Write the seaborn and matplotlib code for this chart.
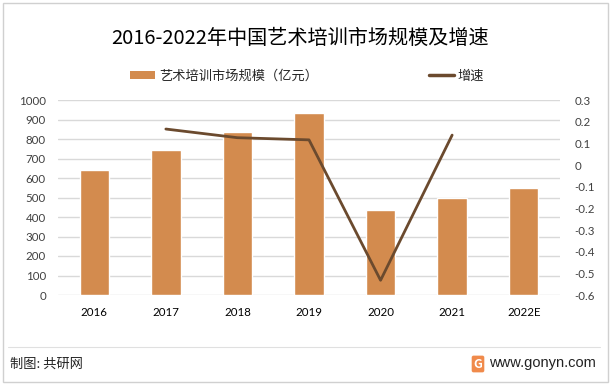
import numpy as np
import pandas as pd
import seaborn as sns
import matplotlib.pyplot as plt
from matplotlib.patches import Rectangle
from matplotlib.lines import Line2D

# values
years = ["2016", "2017", "2018", "2019", "2020", "2021", "2022E"]
market_size = [640, 745, 838, 935, 437, 498, 550]          # 亿元
growth = [np.nan, 0.166, 0.126, 0.116, -0.532, 0.138, np.nan]

bar_label = "艺术培训市场规模（亿元）"
line_label = "增速"
title = "2016-2022年中国艺术培训市场规模及增速"

bar_color = "#D38B4E"
line_color = "#6B4A2E"
grid_color = "#D9D9D9"
tick_color = "#404040"

sns.set_theme(style="white")
plt.rcParams["font.family"] = ["Noto Sans CJK SC", "DejaVu Sans"]

df = pd.DataFrame({"year": years, "size": market_size, "growth": growth})

fig = plt.figure(figsize=(6.12, 3.85), dpi=100)
ax = fig.add_axes([58.5 / 612, 90 / 385, 501 / 612, 195 / 385])

sns.barplot(data=df, x="year", y="size", order=years, color=bar_color,
            width=0.41, saturation=1, ax=ax, zorder=2)
ax.set_ylim(0, 1000)
ax.set_yticks(np.arange(0, 1001, 100))
ax.set_xlim(-0.5, len(years) - 0.5)
ax.yaxis.grid(True, color=grid_color, linewidth=1)
ax.set_axisbelow(True)
ax.set_xlabel("")
ax.set_ylabel("")
for s in ax.spines.values():
    s.set_visible(False)
ax.tick_params(axis="y", length=0, pad=9, labelsize=8.3, labelcolor=tick_color)
ax.tick_params(axis="x", length=0, pad=9, labelsize=8.3, labelcolor="#000000")
for lab in ax.get_xticklabels() + ax.get_yticklabels():
    lab.set_fontfamily(["Lato", "DejaVu Sans"])

ax2 = ax.twinx()
sns.lineplot(x=df.index, y=df["growth"], color=line_color, linewidth=2.0,
             ax=ax2, zorder=3)
ax2.set_ylim(-0.6, 0.3)
ax2.set_yticks(np.round(np.arange(-0.6, 0.31, 0.1), 1))
ax2.set_yticklabels([("0" if abs(v) < 1e-9 else f"{v:.1f}")
                     for v in np.arange(-0.6, 0.31, 0.1)])
ax2.set_ylabel("")
ax2.set_xlim(-0.5, len(years) - 0.5)
for s in ax2.spines.values():
    s.set_visible(False)
ax2.tick_params(axis="y", length=0, pad=11, labelsize=8.3, labelcolor=tick_color)
for lab in ax2.get_yticklabels():
    lab.set_fontfamily(["Lato", "DejaVu Sans"])

# title
fig.text(300 / 612, 1 - 38 / 385, title, ha="center", va="center",
         fontsize=14.5, color="#000000")

# legend
handles = [Rectangle((0, 0), 1, 1, facecolor=bar_color, edgecolor="none"),
           Line2D([0], [0], color=line_color, linewidth=2.5)]
fig.legend(handles, [bar_label, line_label], ncol=2, frameon=False,
           loc="center left", bbox_to_anchor=(118 / 612, 1 - 76 / 385),
           fontsize=9.5, handlelength=1.9, handleheight=0.6,
           handletextpad=0.3, columnspacing=8.4)

# footer
fig.add_artist(Line2D([8 / 612, 600 / 612], [1 - 347 / 385, 1 - 347 / 385],
                      color="#E0E0E0", linewidth=0.8))
fig.text(10 / 612, 1 - 364 / 385, "制图: 共研网", ha="left", va="center",
         fontsize=9.5, color="#222222")
fig.text(596 / 612, 1 - 363 / 385, "www.gonyn.com", ha="right", va="center",
         fontsize=10.5, color="#222222", fontfamily=["Liberation Sans", "DejaVu Sans"])
fig.text(478 / 612, 1 - 364 / 385, "G", ha="center", va="center",
         fontsize=9, fontweight="bold", color="white",
         bbox=dict(boxstyle="round,pad=0.15", facecolor="#F08A4B", edgecolor="none"))

# outer border
fig.add_artist(Rectangle((3 / 612, 3 / 385), 605 / 612, 379 / 385,
                         transform=fig.transFigure, fill=False,
                         edgecolor="#D0D0D0", linewidth=1))

fig.savefig("out.png", dpi=100)
